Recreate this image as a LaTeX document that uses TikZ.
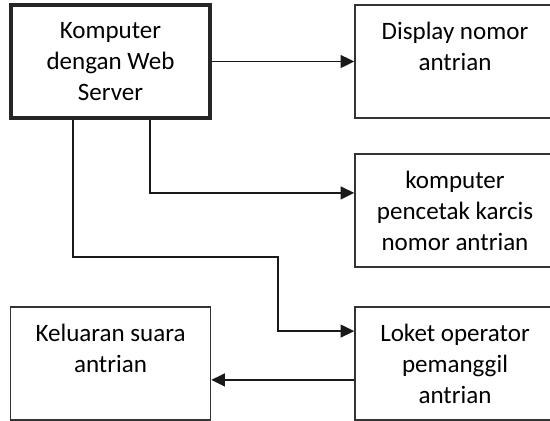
\documentclass[tikz,border=0pt]{standalone}
\usepackage{fontspec}
\setmainfont{Carlito}
\usepackage{tikz}
\usetikzlibrary{arrows.meta, positioning, calc}
\tikzset{
    % boxes
    srvbox/.style={rectangle, draw=black!85, line width=2.2pt, fill=white,
                minimum width=4.975cm, minimum height=2.825cm, align=center,
                font=\fontsize{17.8}{22}\selectfont},
    kbox/.style={rectangle, draw=black!80, line width=1.1pt, fill=white,
                minimum width=5cm, minimum height=2.825cm, align=center,
                font=\fontsize{17.8}{22}\selectfont},
    % connectors
    karrow/.style={-{Triangle[length=0.34cm, width=0.32cm]}, line width=1.3pt, black!90},
}
\begin{document}
\begin{tikzpicture}
\useasboundingbox (0,0) rectangle (13.75,-10.5);
\clip (0,0) rectangle (13.75,-10.5);

\node[srvbox] (srv)    at (2.7625,-1.5375)  {Komputer\\dengan Web\\Server};
\node[kbox]   (disp)   at (11.375,-1.5375)  {Display nomor\\antrian\\~};
\node[kbox]   (cetak)  at (11.375,-5.2625)  {komputer\\pencetak karcis\\nomor antrian};
\node[kbox]   (loket)  at (11.375,-9.0875)  {Loket operator\\pemanggil\\antrian};
\node[kbox]   (suara)  at (2.7625,-9.0875)  {Keluaran suara\\antrian\\~};

\coordinate (bend) at (6.95,-6.425);

\draw[karrow] (srv) -- (disp);
\draw[karrow] ([xshift=0.99cm]srv.south) |- ([yshift=0.44cm]cetak.west);
\draw[karrow] ([xshift=-0.94cm]srv.south) |- (bend) |- ([yshift=0.81cm]loket.west);
\draw[karrow] ([yshift=-0.41cm]loket.west) -- ([yshift=-0.41cm]suara.east);
\end{tikzpicture}
\end{document}
